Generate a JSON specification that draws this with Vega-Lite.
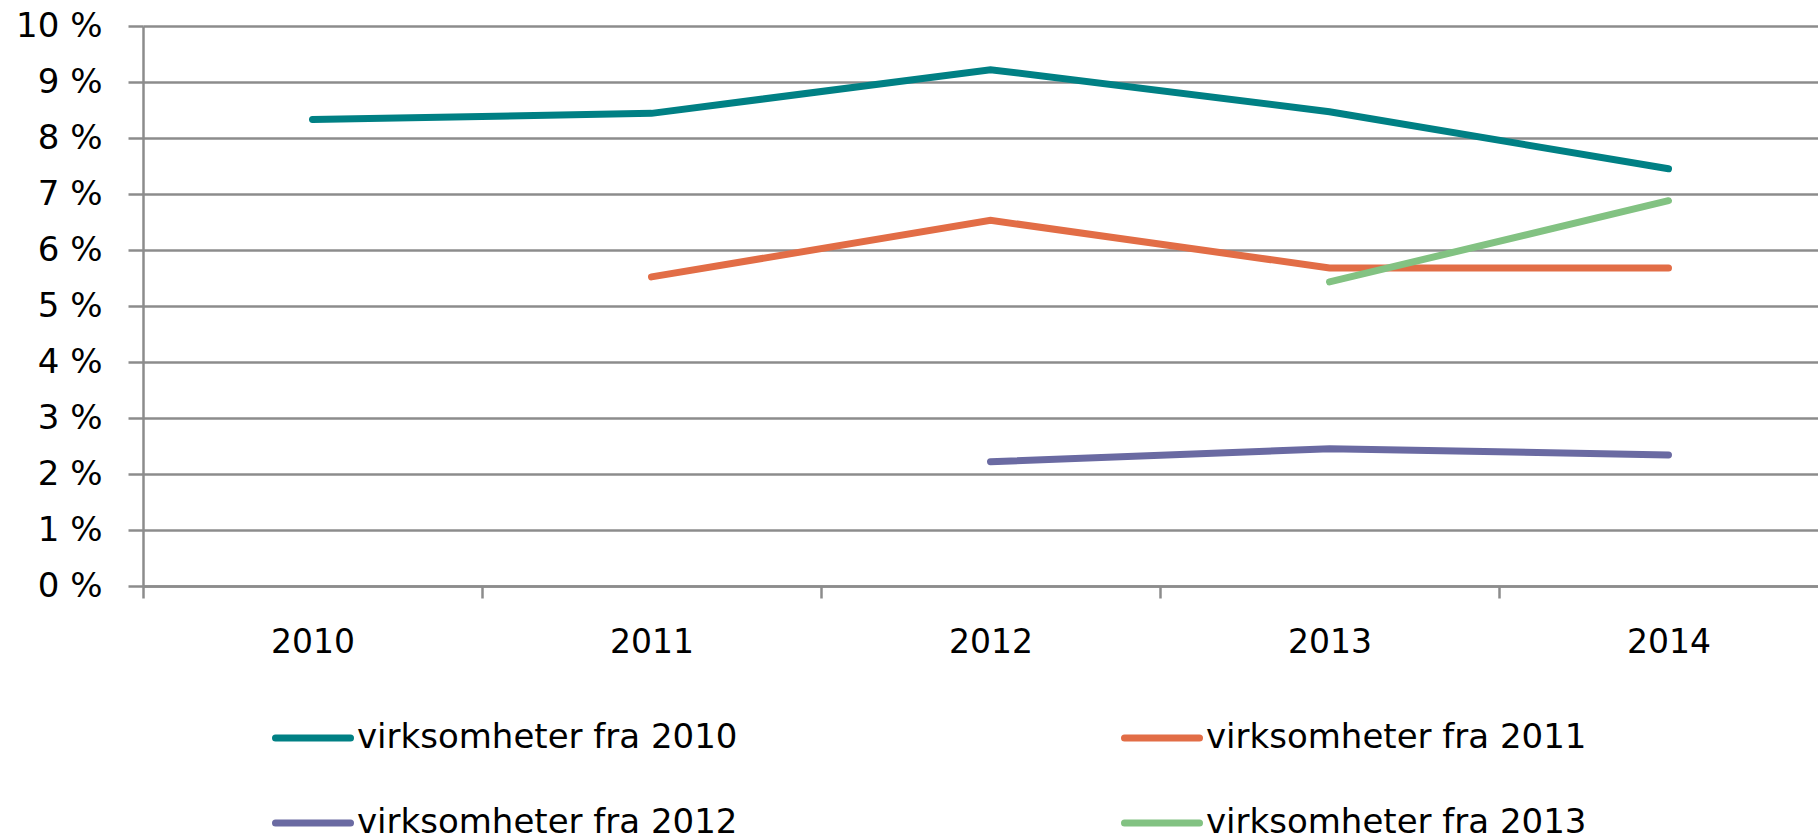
{
  "$schema": "https://vega.github.io/schema/vega-lite/v6.json",
  "width": 1675,
  "height": 560,
  "autosize": {"type": "none"},
  "padding": {"left": 143, "top": 26, "right": 0, "bottom": 254},
  "background": "white",
  "config": {
    "view": {"stroke": null},
    "font": "DejaVu Sans"
  },
  "data": {
    "values": [
      {"year": "2010", "series": "virksomheter fra 2010", "value": 8.33},
      {"year": "2011", "series": "virksomheter fra 2010", "value": 8.44},
      {"year": "2012", "series": "virksomheter fra 2010", "value": 9.22},
      {"year": "2013", "series": "virksomheter fra 2010", "value": 8.47},
      {"year": "2014", "series": "virksomheter fra 2010", "value": 7.45},
      {"year": "2011", "series": "virksomheter fra 2011", "value": 5.52},
      {"year": "2012", "series": "virksomheter fra 2011", "value": 6.53},
      {"year": "2013", "series": "virksomheter fra 2011", "value": 5.68},
      {"year": "2014", "series": "virksomheter fra 2011", "value": 5.68},
      {"year": "2012", "series": "virksomheter fra 2012", "value": 2.22},
      {"year": "2013", "series": "virksomheter fra 2012", "value": 2.45},
      {"year": "2014", "series": "virksomheter fra 2012", "value": 2.34},
      {"year": "2013", "series": "virksomheter fra 2013", "value": 5.43},
      {"year": "2014", "series": "virksomheter fra 2013", "value": 6.88}
    ]
  },
  "mark": {"type": "line", "strokeWidth": 7, "strokeCap": "round"},
  "encoding": {
    "x": {
      "field": "year",
      "type": "ordinal",
      "scale": {"type": "point", "padding": 0.5, "range": [0, 1695]},
      "axis": {
        "title": null,
        "labelAngle": 0,
        "labelFont": "DejaVu Sans",
        "labelFontSize": 33,
        "labelColor": "black",
        "labelPadding": 28,
        "tickOffset": -169.5,
        "labelOffset": 169.5,
        "tickSize": 12,
        "tickWidth": 2.5,
        "tickColor": "#8c8c8c",
        "domainColor": "#8c8c8c",
        "domainWidth": 2.5,
        "grid": false
      }
    },
    "y": {
      "field": "value",
      "type": "quantitative",
      "scale": {"domain": [0, 10], "nice": false},
      "axis": {
        "title": null,
        "values": [0, 1, 2, 3, 4, 5, 6, 7, 8, 9, 10],
        "labelExpr": "datum.value + ' %'",
        "labelFont": "DejaVu Sans",
        "labelFontSize": 34,
        "labelColor": "black",
        "labelPadding": 26,
        "tickSize": 15,
        "tickWidth": 2.5,
        "tickColor": "#8c8c8c",
        "domainColor": "#8c8c8c",
        "domainWidth": 2.5,
        "grid": true,
        "gridColor": "#8c8c8c",
        "gridWidth": 2.5
      }
    },
    "color": {
      "field": "series",
      "type": "nominal",
      "scale": {
        "domain": ["virksomheter fra 2010", "virksomheter fra 2011", "virksomheter fra 2012", "virksomheter fra 2013"],
        "range": ["#008084", "#E26D46", "#6A6AA2", "#82C282"]
      },
      "legend": {
        "title": null,
        "orient": "none",
        "direction": "horizontal",
        "legendX": 129,
        "legendY": 671,
        "columns": 2,
        "columnPadding": 372,
        "rowPadding": 27,
        "symbolType": "stroke",
        "symbolSize": 5625,
        "symbolStrokeWidth": 7,
        "labelFont": "DejaVu Sans",
        "labelFontSize": 34,
        "labelColor": "black",
        "labelOffset": 3,
        "labelLimit": 0,
        "encode": {"symbols": {"update": {"strokeCap": {"value": "round"}}}}
      }
    }
  }
}
